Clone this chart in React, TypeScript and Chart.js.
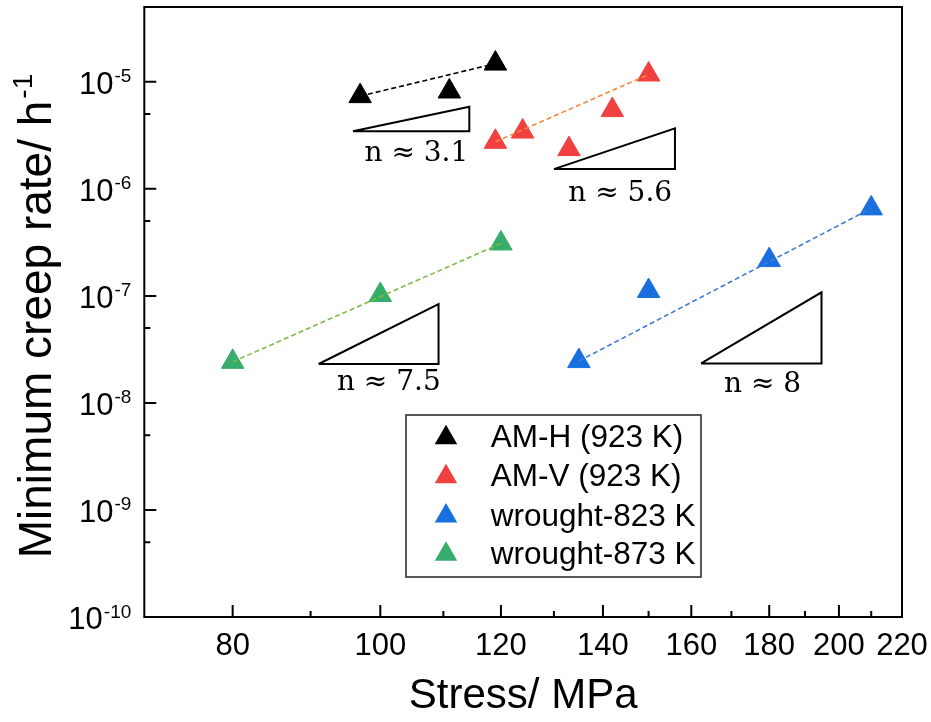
import React, { useEffect, useRef } from 'react';
import { Chart, registerables } from 'chart.js';

Chart.register(...registerables);

// ---- data (stress in MPa, minimum creep rate in 1/h) ----
const amhStress = [97, 111, 119];
const amhRate = [7.35e-6, 8.12e-6, 1.48e-5];
const amvStress = [119, 124, 133, 142, 150];
const amvRate = [2.75e-6, 3.43e-6, 2.35e-6, 5.44e-6, 1.17e-5];
const w823Stress = [135, 150, 180, 210];
const w823Rate = [2.46e-8, 1.11e-7, 2.16e-7, 6.57e-7];
const w873Stress = [80, 100, 120];
const w873Rate = [2.42e-8, 1.02e-7, 3.09e-7];

const seriesLabels = ['AM-H (923 K)', 'AM-V (923 K)', 'wrought-823 K', 'wrought-873 K'];
const seriesColors = ['#000000', '#F14040', '#1A6FDF', '#37AD6B'];
const fitColors = ['#000000', '#F5883A', '#3F7BD9', '#7DBB45'];

// slope triangles (x: [left, right], y: [bottom, top]) and their labels
const slope31X = [95.95, 114.4];
const slope31Y = [3.46e-6, 5.84e-6];
const slope56X = [130.0, 156.1];
const slope56Y = [1.53e-6, 3.67e-6];
const slope75X = [91.1, 109.2];
const slope75Y = [2.31e-8, 8.39e-8];
const slope8X = [162.4, 194.8];
const slope8Y = [2.34e-8, 1.08e-7];
const slopeLabels = ['n ≈ 3.1', 'n ≈ 5.6', 'n ≈ 7.5', 'n ≈ 8'];
const slopeLabelX = [105.6, 143.7, 101.3, 178.2];
const slopeLabelY = [2.11e-6, 9.07e-7, 1.55e-8, 1.47e-8];

// axes
const xMajorTicks = [80, 100, 120, 140, 160, 180, 200, 220];
const xMinorTicks = [90, 110, 130, 150, 170, 190, 210];
const yMajorExps = [-10, -9, -8, -7, -6, -5];
const yMinorTicks = [5e-10, 5e-9, 5e-8, 5e-7, 5e-6];
const xTitle = 'Stress/ MPa';
const yTitleMain = 'Minimum creep rate/ h';
const yTitleSup = '-1';

const SANS = '"Liberation Sans", Arial, sans-serif';
const SERIF = '"DejaVu Serif", serif';

const pts = (xs: number[], ys: number[]) => xs.map((x, i) => ({ x, y: ys[i] }));
const ends = (xs: number[], ys: number[]) => [
  { x: xs[0], y: ys[0] },
  { x: xs[xs.length - 1], y: ys[ys.length - 1] },
];
const tri = (xs: number[], ys: number[]) => [
  { x: xs[0], y: ys[0] },
  { x: xs[1], y: ys[0] },
  { x: xs[1], y: ys[1] },
  { x: xs[0], y: ys[0] },
];

const decorations = {
  id: 'decorations',
  afterDraw(chart: any) {
    const ctx = chart.ctx;
    const xs = chart.scales.x;
    const ys = chart.scales.y;
    const { left, right, top, bottom } = chart.chartArea;
    ctx.save();
    // ticks (inward) and frame
    ctx.strokeStyle = '#000';
    ctx.lineWidth = 2;
    ctx.beginPath();
    xMajorTicks.forEach((v) => {
      const p = xs.getPixelForValue(v);
      ctx.moveTo(p, bottom);
      ctx.lineTo(p, bottom - 12);
    });
    xMinorTicks.forEach((v) => {
      const p = xs.getPixelForValue(v);
      ctx.moveTo(p, bottom);
      ctx.lineTo(p, bottom - 6);
    });
    yMajorExps.forEach((e) => {
      const p = ys.getPixelForValue(Math.pow(10, e));
      ctx.moveTo(left, p);
      ctx.lineTo(left + 12, p);
    });
    yMinorTicks.forEach((v) => {
      const p = ys.getPixelForValue(v);
      ctx.moveTo(left, p);
      ctx.lineTo(left + 6, p);
    });
    ctx.stroke();
    ctx.strokeRect(left, top, right - left, bottom - top);

    // y tick labels 10^n
    ctx.fillStyle = '#000';
    ctx.textBaseline = 'alphabetic';
    yMajorExps.forEach((e) => {
      const p = ys.getPixelForValue(Math.pow(10, e));
      const sup = String(e);
      ctx.font = '19px ' + SANS;
      const ws = ctx.measureText(sup).width;
      const supRight = left - 13;
      ctx.textAlign = 'left';
      ctx.fillText(sup, supRight - ws, p + 0.5);
      ctx.font = '31px ' + SANS;
      ctx.textAlign = 'right';
      ctx.fillText('10', supRight - ws - 1, p + 12);
    });

    // y title with superscript
    const ySize = 46;
    ctx.save();
    ctx.translate(35, (top + bottom) / 2 + 4);
    ctx.rotate(-Math.PI / 2);
    ctx.font = ySize + 'px ' + SANS;
    const wMain = ctx.measureText(yTitleMain).width;
    ctx.font = Math.round(ySize * 0.6) + 'px ' + SANS;
    const wSup = ctx.measureText(yTitleSup).width;
    const start = -(wMain + wSup + 2) / 2;
    const base = (ySize * 0.716) / 2;
    ctx.textAlign = 'left';
    ctx.font = ySize + 'px ' + SANS;
    ctx.fillText(yTitleMain, start, base);
    ctx.font = Math.round(ySize * 0.6) + 'px ' + SANS;
    ctx.fillText(yTitleSup, start + wMain + 2, base - ySize * 0.42);
    ctx.restore();

    // slope labels
    ctx.font = '28px ' + SERIF;
    ctx.textAlign = 'center';
    ctx.textBaseline = 'middle';
    slopeLabels.forEach((t, i) => {
      ctx.fillText(t, xs.getPixelForValue(slopeLabelX[i]), ys.getPixelForValue(slopeLabelY[i]));
    });

    // legend
    const bx = 406, by = 415, bw = 295, bh = 162;
    ctx.fillStyle = '#fff';
    ctx.fillRect(bx, by, bw, bh);
    ctx.strokeStyle = '#222';
    ctx.lineWidth = 1.5;
    ctx.strokeRect(bx, by, bw, bh);
    const rowY = [437.7, 476.7, 516, 554.3];
    ctx.font = '31.5px ' + SANS;
    ctx.textAlign = 'left';
    ctx.textBaseline = 'middle';
    seriesLabels.forEach((lab, i) => {
      const cx = 446, cy = rowY[i], r = 13;
      ctx.fillStyle = seriesColors[i];
      ctx.beginPath();
      ctx.moveTo(cx, cy - r);
      ctx.lineTo(cx + r * Math.sin((2 * Math.PI) / 3), cy - r * Math.cos((2 * Math.PI) / 3));
      ctx.lineTo(cx + r * Math.sin((4 * Math.PI) / 3), cy - r * Math.cos((4 * Math.PI) / 3));
      ctx.closePath();
      ctx.fill();
      ctx.fillStyle = '#000';
      ctx.fillText(lab, 490.7, cy + 1);
    });
    ctx.restore();
  },
};

export default function App() {
  const ref = useRef<HTMLCanvasElement>(null);
  useEffect(() => {
    if (!ref.current) return;
    const fitDs = (xs: number[], ys: number[], i: number) => ({
      data: ends(xs, ys),
      showLine: true,
      borderColor: fitColors[i],
      borderWidth: 1.6,
      borderDash: [5, 3],
      pointRadius: 0,
      fill: false,
    });
    const markDs = (xs: number[], ys: number[], i: number) => ({
      label: seriesLabels[i],
      data: pts(xs, ys),
      showLine: false,
      pointStyle: 'triangle',
      pointRadius: 13,
      pointBackgroundColor: seriesColors[i],
      pointBorderColor: seriesColors[i],
      pointBorderWidth: 1,
    });
    const triDs = (xs: number[], ys: number[]) => ({
      data: tri(xs, ys),
      showLine: true,
      borderColor: '#000',
      borderWidth: 2,
      borderJoinStyle: 'miter',
      pointRadius: 0,
      fill: false,
    });
    const zeroPad = (s: any) => {
      s.paddingLeft = 0;
      s.paddingRight = 0;
      s.paddingTop = 0;
      s.paddingBottom = 0;
    };
    const chart = new Chart(ref.current, {
      type: 'scatter',
      data: {
        datasets: [
          fitDs(amhStress, amhRate, 0),
          fitDs(amvStress, amvRate, 1),
          fitDs(w823Stress, w823Rate, 2),
          fitDs(w873Stress, w873Rate, 3),
          markDs(amhStress, amhRate, 0),
          markDs(amvStress, amvRate, 1),
          markDs(w823Stress, w823Rate, 2),
          markDs(w873Stress, w873Rate, 3),
          triDs(slope31X, slope31Y),
          triDs(slope56X, slope56Y),
          triDs(slope75X, slope75Y),
          triDs(slope8X, slope8Y),
        ] as any,
      },
      options: {
        animation: false,
        responsive: false,
        devicePixelRatio: 1,
        layout: { autoPadding: false, padding: { top: 7, right: 29, left: 0, bottom: 0 } },
        plugins: { legend: { display: false }, tooltip: { enabled: false } },
        scales: {
          x: {
            type: 'logarithmic',
            min: 70,
            max: 220,
            position: 'bottom',
            afterBuildTicks: (s: any) => {
              s.ticks = xMajorTicks.map((v) => ({ value: v }));
            },
            afterFit: (s: any) => {
              s.height = 105;
              zeroPad(s);
            },
            grid: { display: false, drawTicks: false, tickLength: 0 },
            border: { display: false },
            ticks: {
              autoSkip: false,
              maxRotation: 0,
              padding: 11,
              color: '#000',
              font: { family: SANS, size: 31 },
              callback: (v: any) => String(v),
            },
            title: {
              display: true,
              text: xTitle,
              color: '#000',
              font: { family: SANS, size: 42 },
              padding: { top: 0, bottom: 0 },
            },
          },
          y: {
            type: 'logarithmic',
            min: 1e-10,
            max: 5e-5,
            afterFit: (s: any) => {
              s.width = 144.3;
              zeroPad(s);
            },
            ticks: { display: false },
            grid: { display: false, drawTicks: false, tickLength: 0 },
            border: { display: false },
          },
        },
      } as any,
      plugins: [decorations],
    });
    return () => chart.destroy();
  }, []);
  return (
    <div style={{ position: 'fixed', left: 0, top: 0, width: 931, height: 722, background: '#fff' }}>
      <canvas ref={ref} width={931} height={722} style={{ display: 'block' }} />
    </div>
  );
}
